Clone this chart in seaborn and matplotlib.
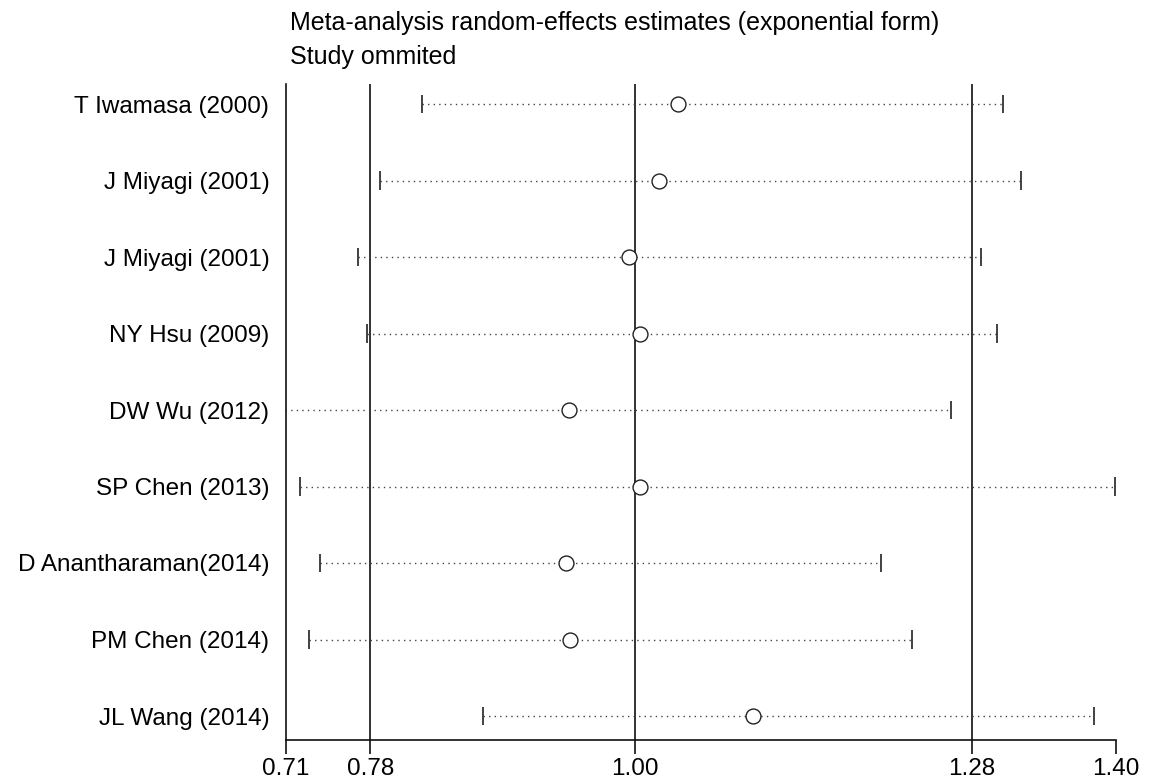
import pandas as pd
import seaborn as sns
import matplotlib.pyplot as plt

# Study-omitted estimates (exponential form)
studies = ["T Iwamasa (2000)", "J Miyagi (2001)", "J Miyagi (2001)", "NY Hsu (2009)",
           "DW Wu (2012)", "SP Chen (2013)", "D Anantharaman(2014)", "PM Chen (2014)",
           "JL Wang (2014)"]
estimate = [1.036, 1.020, 0.995, 1.004, 0.945, 1.004, 0.943, 0.946, 1.098]
lower = [0.823, 0.788, 0.770, 0.777, 0.700, 0.722, 0.738, 0.729, 0.874]
upper = [1.306, 1.321, 1.288, 1.301, 1.263, 1.399, 1.205, 1.230, 1.382]

# overall estimate with CI -> vertical reference lines
overall = [0.78, 1.00, 1.28]
xticks = [0.71, 0.78, 1.00, 1.28, 1.40]

df = pd.DataFrame({"study": studies, "est": estimate, "lo": lower, "hi": upper})
df["row"] = range(len(df))

sns.set_style("white")
plt.rcParams["font.family"] = ["Liberation Sans", "DejaVu Sans"]
plt.rcParams["text.color"] = "black"
plt.rcParams["xtick.color"] = "black"
plt.rcParams["ytick.color"] = "black"

fig = plt.figure(figsize=(11.56, 7.83), dpi=100)
ax = fig.add_axes([286 / 1156, 1 - 740 / 783, (1116 - 286) / 1156, (740 - 84) / 783])

# reference lines
for v in overall:
    ax.axvline(v, color="#222222", lw=1.3, zorder=1)

# dotted CI lines + caps
ax.hlines(df["row"], df["lo"], df["hi"], color="#444444", lw=1.0,
          linestyles=(0, (1, 3)), zorder=2)
ax.vlines(df["lo"], df["row"] - 0.12, df["row"] + 0.12, color="#333333", lw=1.3, zorder=2)
ax.vlines(df["hi"], df["row"] - 0.12, df["row"] + 0.12, color="#333333", lw=1.3, zorder=2)

# point estimates
sns.scatterplot(data=df, x="est", y="row", ax=ax, marker="o", s=115,
                facecolor="white", edgecolor="#222222", linewidth=1.0, zorder=3)

ax.set_xlim(0.71, 1.40)
ax.set_ylim(8 + 24 / 76.5, -20 / 76.5)
ax.set_xticks(xticks)
ax.set_xticklabels([f"{t:.2f}" for t in xticks], fontsize=17.5)
ax.set_yticks(df["row"])
ax.set_yticklabels(df["study"], fontsize=17.5)
ax.tick_params(axis="y", length=0, pad=12)
ax.tick_params(axis="x", length=10, width=1.2, color="#111111", pad=3, bottom=True)
ax.set_xlabel("")
ax.set_ylabel("")

for s in ["top", "right"]:
    ax.spines[s].set_visible(False)
for s in ["left", "bottom"]:
    ax.spines[s].set_color("#111111")
    ax.spines[s].set_linewidth(1.2)

fig.text(290 / 1156, 1 - 23 / 783, "Meta-analysis random-effects estimates (exponential form)",
         fontsize=18, va="center", ha="left")
fig.text(290 / 1156, 1 - 57 / 783, "Study ommited", fontsize=18, va="center", ha="left")

fig.savefig("out.png", dpi=100)
